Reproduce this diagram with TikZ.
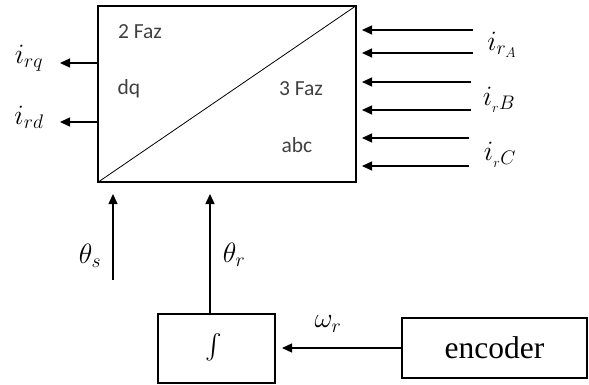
\RequirePackage{fix-cm}
\documentclass[tikz,border=0pt]{standalone}
\usepackage{amsmath}
\usepackage{fontspec}
\setsansfont{Carlito}
\newfontfamily\encfont{Liberation Serif}
\usetikzlibrary{arrows.meta}
\begin{document}
\begin{tikzpicture}[x=1pt,y=-1pt,
  box/.style={draw,line width=1.3pt,inner sep=0pt},
  arr/.style={line width=1.3pt,-{Triangle[length=10pt,width=9pt]}},
  lbl/.style={font=\fontsize{28}{32}\selectfont,inner sep=0pt},
  txt/.style={font=\sffamily\fontsize{21.5}{25}\selectfont,text=black!75,inner sep=0pt}]
\useasboundingbox (0,0) rectangle (589,385);
% main converter box
\node[box,minimum width=258pt,minimum height=176pt] (conv) at (227,94) {};
\draw[line width=0.8pt] (conv.south west) -- (conv.north east);
\node[txt] (f2) at (140,32) {2 Faz};
\node[txt] (dq) at (129,89) {dq};
\node[txt] (f3) at (301,89) {3 Faz};
\node[txt] (abc) at (297,145) {abc};
% outputs
\node[lbl] (irq) at (29,58) {$i_{rq}$};
\node[lbl] (ird) at (29,117) {$i_{rd}$};
\coordinate (oq) at (98,63);
\coordinate (od) at (98,122);
\coordinate (tq) at (60,63);
\coordinate (td) at (60,122);
\draw[arr] (oq) -- (tq);
\draw[arr] (od) -- (td);
% inputs
\node[lbl] (ira) at (502,45) {$i_{r_A}$};
\node[lbl] (irb) at (499,100) {$i_{{}_rB}$};
\node[lbl] (irc) at (500,155) {$i_{{}_rC}$};
\foreach \n/\y/\xs in {1/30/473,2/53/473,3/82/471,4/110/471,5/138/469,6/166/469}{
  \coordinate (s\n) at (\xs,\y);
  \coordinate (e\n) at (362,\y);
  \draw[arr] (s\n) -- (e\n);
}
% integrator and encoder
\node[box,minimum width=117pt,minimum height=69pt] (int) at (216.5,348.5) {};
\node[inner sep=0pt,font=\fontsize{27}{30}\selectfont] (intsym) at (214,347) {$\int$};
\node[box,minimum width=185pt,minimum height=60pt,font=\encfont\fontsize{31.5}{34}\selectfont] (enc) at (494.5,348) {encoder};
\coordinate (wi) at (282,348);
\draw[arr] (enc.west) -- (wi);
\node[lbl] (wr) at (328,324) {$\omega_r$};
% angles
\coordinate (ths0) at (113,280);
\coordinate (ths1) at (113,194);
\draw[arr] (ths0) -- (ths1);
\coordinate (thr1) at (210,194);
\draw[arr] (int.north -| thr1) -- (thr1);
\node[lbl] (ths) at (90,256) {$\theta_s$};
\node[lbl] (thr) at (234,255) {$\theta_r$};
\end{tikzpicture}
\end{document}
